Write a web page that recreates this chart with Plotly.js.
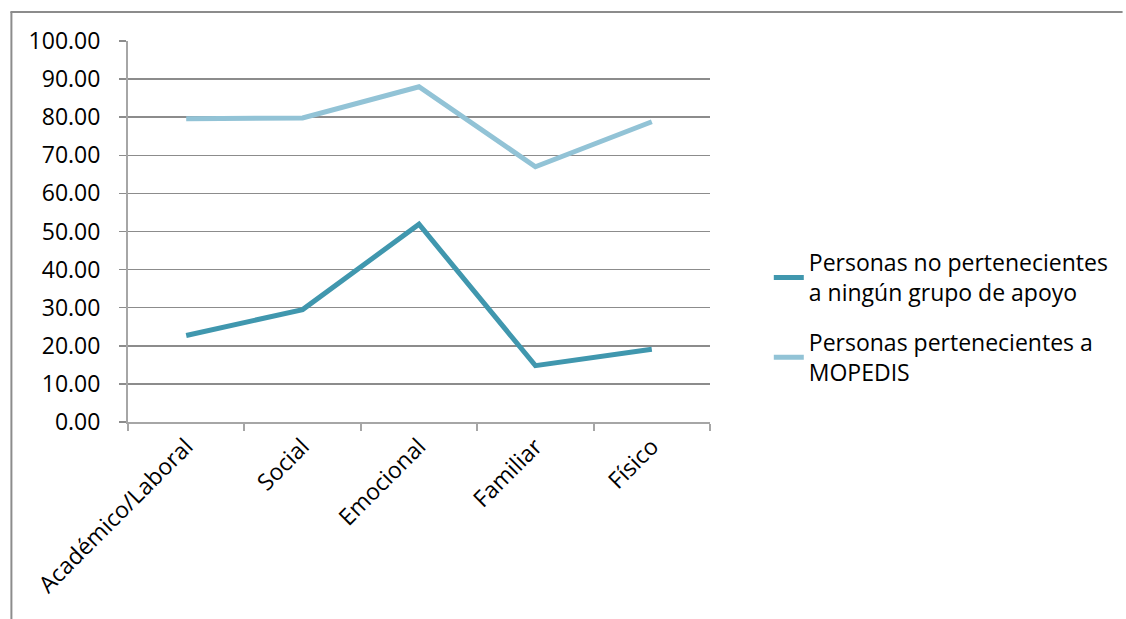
<!DOCTYPE html>
<html>
<head>
<meta charset="utf-8">
<script src="https://cdn.plot.ly/plotly-3.0.1.min.js"></script>
<style>html,body{margin:0;padding:0;background:#fff;}#chart{width:1126px;height:619px;}</style>
</head>
<body>
<div id="chart"></div>
<script>
const categories = ["Académico/Laboral", "Social", "Emocional", "Familiar", "Físico"];
const seriesNames = ["Personas no pertenecientes<br>a ningún grupo de apoyo", "Personas pertenecientes a<br>MOPEDIS"];
const noGrupo = [22.7, 29.5, 51.9, 14.8, 19.1];
const mopedis = [79.6, 79.8, 88.0, 67.0, 78.8];
const yTicks = [0, 10, 20, 30, 40, 50, 60, 70, 80, 90, 100];

const FONT = "'Open Sans', Lato, sans-serif";
const traces = [
  {x: categories, y: noGrupo, name: seriesNames[0], legendgroup: "a", type: "scatter", mode: "lines",
   line: {color: "#4097ae", width: 5}},
  {x: categories, y: mopedis, name: seriesNames[1], legendgroup: "b", type: "scatter", mode: "lines",
   line: {color: "#92c3d6", width: 5}}
];
const L = 128, R = 712, T = 41, B = 422, W = 1126, H = 619;
const pw = R - L, ph = B - T;
const px = v => (v - L) / pw, py = v => (B - v) / ph;
const layout = {
  width: W, height: H,
  margin: {l: L, r: W - R, t: T, b: H - B, pad: 0},
  paper_bgcolor: "#fff", plot_bgcolor: "#fff",
  font: {family: FONT, size: 23, color: "#000"},
  showlegend: true,
  legend: {x: px(771), y: py(241), xanchor: "left", yanchor: "top",
           traceorder: "grouped", tracegroupgap: 17,
           font: {family: FONT, size: 23, color: "#000"},
           bgcolor: "rgba(0,0,0,0)"},
  xaxis: {type: "category", range: [-0.5, 4.5], tickson: "boundaries",
          showgrid: false, showline: true, linecolor: "#a6a6a6", linewidth: 2,
          ticks: "outside", ticklen: 7, tickcolor: "#a6a6a6", tickwidth: 2,
          tickangle: -45, tickfont: {family: FONT, size: 23, color: "#000"}, fixedrange: true},
  yaxis: {range: [0, 100], tickvals: yTicks, tickformat: ".2f",
          showgrid: true, gridcolor: "#8c8c8c", gridwidth: 1.5,
          zeroline: false, showline: true, linecolor: "#a6a6a6", linewidth: 2,
          ticks: "outside", ticklen: 7, tickcolor: "#8c8c8c", tickwidth: 1.5,
          ticklabelstandoff: 14,
          tickfont: {family: FONT, size: 23, color: "#000"}, fixedrange: true},
  shapes: [
    {type: "line", xref: "paper", yref: "paper", x0: px(10), x1: px(1126), y0: py(12), y1: py(12),
     line: {color: "#8c8c8c", width: 2}},
    {type: "line", xref: "paper", yref: "paper", x0: px(11), x1: px(11), y0: py(12), y1: py(619),
     line: {color: "#8c8c8c", width: 2}}
  ]
};
Plotly.newPlot("chart", traces, layout, {displayModeBar: false, staticPlot: true});
</script>
</body>
</html>
